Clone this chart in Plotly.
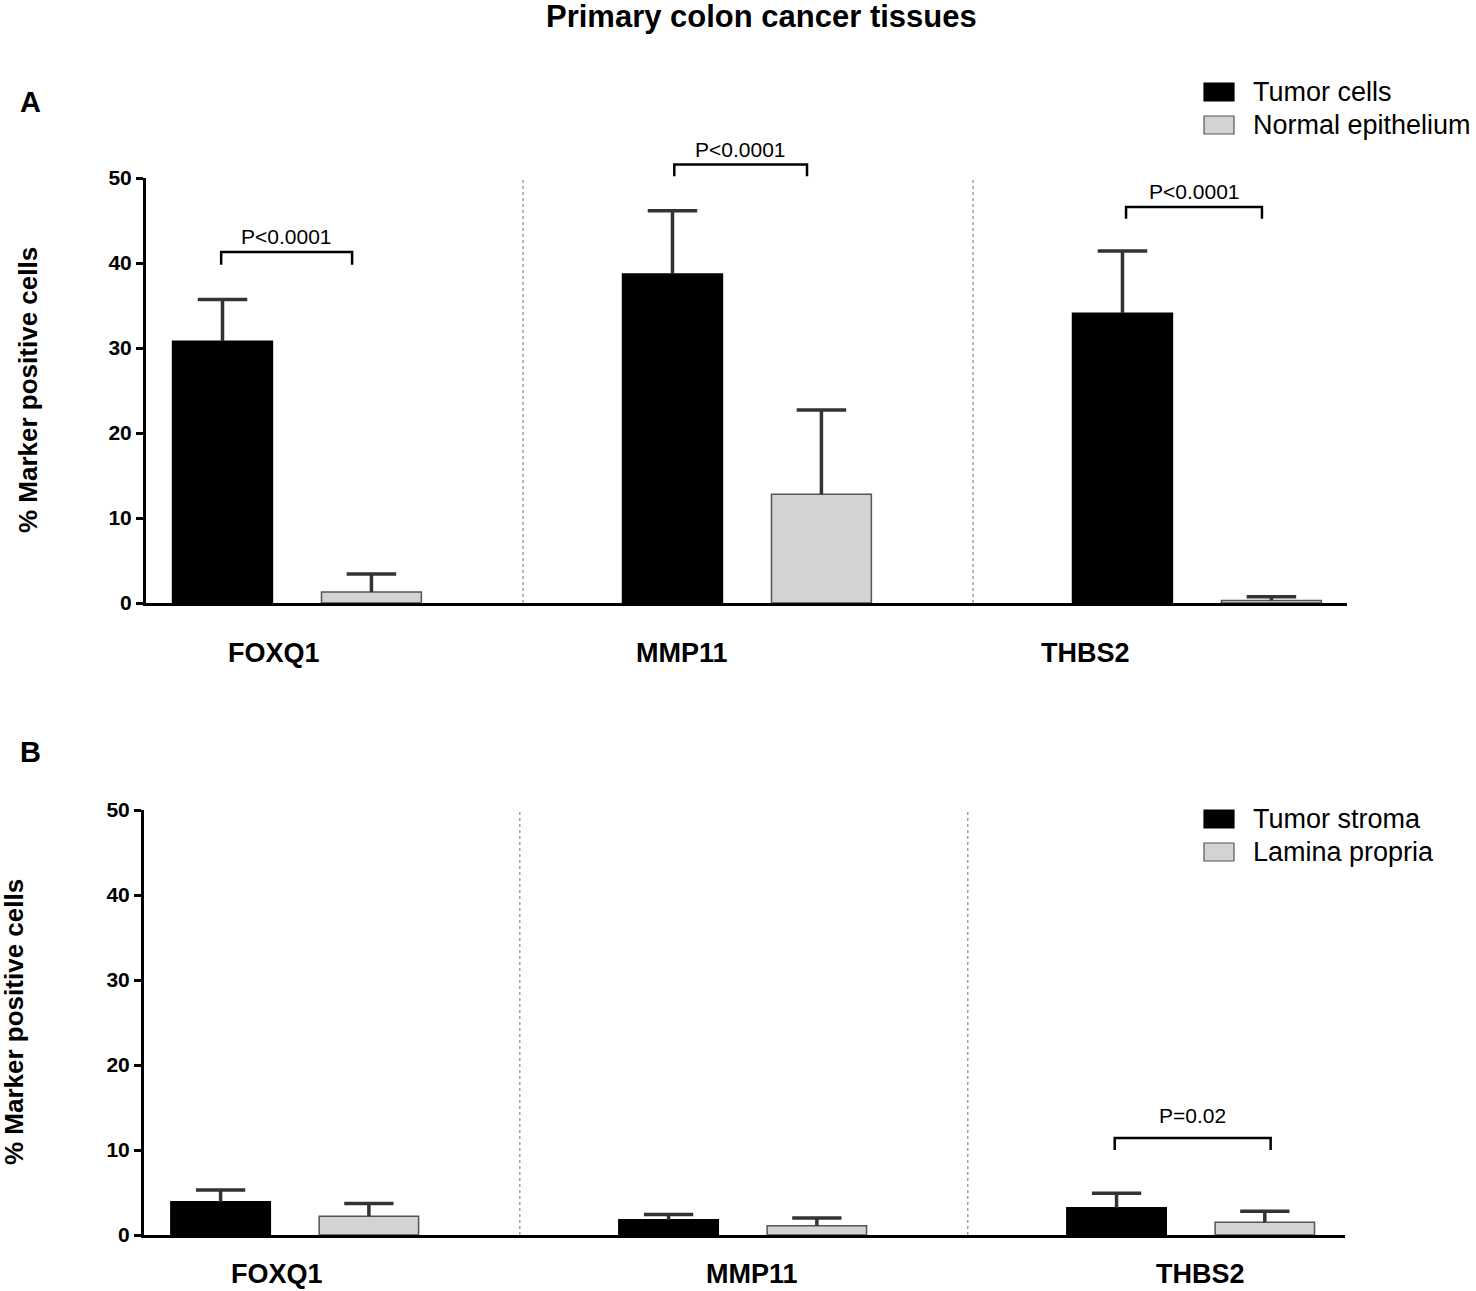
import plotly.graph_objects as go

# Дані
markers = ["FOXQ1", "MMP11", "THBS2"]

tumor_cells = [30.8, 38.7, 34.1]
tumor_cells_err = [4.9, 7.45, 7.3]
normal_epithelium = [1.3, 12.8, 0.3]
normal_epithelium_err = [2.1, 9.9, 0.45]

tumor_stroma = [3.9, 1.8, 3.2]
tumor_stroma_err = [1.4, 0.6, 1.7]
lamina_propria = [2.2, 1.1, 1.5]
lamina_propria_err = [1.5, 0.9, 1.3]

series_a = ["Tumor cells", "Normal epithelium"]
series_b = ["Tumor stroma", "Lamina propria"]
p_values_a = ["P<0.0001", "P<0.0001", "P<0.0001"]
p_values_b = [None, None, "P=0.02"]

W, H = 1476, 1291
FONT = "Liberation Sans, Arial, sans-serif"
DARK = "black"
LIGHT = "#d3d3d3"


def px(x):
    return x / W


def py(y):
    return 1 - y / H


fig = go.Figure()

BAR_W = 0.222
OFFS = [-0.168, 0.163]
CAP = 0.055  # півширина «капелюшка» похибки в одиницях осі


def add_bars(values, errs, name, color, line_color, xa, ya, k):
    xs = [i + OFFS[k] for i in range(len(values))]
    fig.add_trace(go.Bar(
        x=xs, y=values, width=BAR_W, name=name,
        marker=dict(color=color, line=dict(color=line_color, width=1.5)),
        xaxis=xa, yaxis=ya, showlegend=False,
    ))
    # похибка лише вгору, без нижньої риски
    ex, ey = [], []
    for x, v, e in zip(xs, values, errs):
        ex += [x, x, None, x - CAP, x + CAP, None]
        ey += [v, v + e, None, v + e, v + e, None]
    fig.add_trace(go.Scatter(x=ex, y=ey, mode="lines", line=dict(color="#333333", width=3.5),
                             xaxis=xa, yaxis=ya, showlegend=False, hoverinfo="skip",
                             cliponaxis=False))


add_bars(tumor_cells, tumor_cells_err, series_a[0], DARK, DARK, "x", "y", 0)
add_bars(normal_epithelium, normal_epithelium_err, series_a[1], LIGHT, "#555555", "x", "y", 1)
add_bars(tumor_stroma, tumor_stroma_err, series_b[0], DARK, DARK, "x2", "y2", 0)
add_bars(lamina_propria, lamina_propria_err, series_b[1], LIGHT, "#555555", "x2", "y2", 1)

axis_common = dict(showgrid=False, zeroline=False, showline=True, linecolor="black", linewidth=3,
                   automargin=False)
yaxis_common = dict(axis_common, range=[0, 50], tickvals=[0, 10, 20, 30, 40, 50],
                    ticks="outside", ticklen=7, tickwidth=3, tickcolor="black",
                    tickfont=dict(family=FONT, size=21, color="black", weight="bold"))

fig.update_layout(
    width=W, height=H,
    margin=dict(l=0, r=0, t=0, b=0, autoexpand=False),
    plot_bgcolor="white", paper_bgcolor="white",
    barmode="overlay",
    font=dict(family=FONT, color="black"),
    xaxis=dict(axis_common, domain=[px(146), px(1347)], range=[-0.338, 2.331],
               showticklabels=False, ticks=""),
    yaxis=dict(yaxis_common, domain=[py(603), py(178)]),
    xaxis2=dict(axis_common, domain=[px(144), px(1345)], anchor="y2", range=[-0.339, 2.342],
                showticklabels=False, ticks=""),
    yaxis2=dict(yaxis_common, domain=[py(1235), py(810)], anchor="x2"),
)

shapes = []
annotations = []


def note(text, x, y, size, bold=False, xref="paper", yref="paper", xanchor="center", angle=0):
    annotations.append(dict(xref=xref, yref=yref, x=x, y=y, text=f"<b>{text}</b>" if bold else text,
                            showarrow=False, xanchor=xanchor, yanchor="middle", textangle=angle,
                            font=dict(family=FONT, size=size, color="black")))


# Роздільники між групами
for xa, ya in [("x", "y"), ("x2", "y2")]:
    for s in [0.5, 1.5]:
        shapes.append(dict(type="line", xref=xa, yref=ya + " domain", x0=s, x1=s, y0=0, y1=1,
                           line=dict(color="#888888", width=1.2, dash="dot")))


# Скоби значущості
def bracket(xa, ya, x0, x1, ylo, yhi, text, ty):
    shapes.append(dict(type="path", xref=xa, yref=ya + " domain",
                       path=f"M {x0},{ylo / 50} L {x0},{yhi / 50} L {x1},{yhi / 50} L {x1},{ylo / 50}",
                       line=dict(color="black", width=2.5)))
    note(text, (x0 + x1) / 2, ty / 50, 21, xref=xa, yref=ya + " domain")


br_a = [(-0.171, 0.12, 39.8, 41.3, 43.1), (-0.164, 0.131, 50.2, 51.6, 53.4), (-0.16, 0.142, 45.2, 46.6, 48.4)]
for i, (x0, x1, ylo, yhi, ty) in enumerate(br_a):
    bracket("x", "y", i + x0, i + x1, ylo, yhi, p_values_a[i], ty)
bracket("x2", "y2", 2 - 0.172, 2 + 0.176, 10.0, 11.4, p_values_b[2], 14.1)

# Підписи категорій
for name, cx in zip(markers, [274, 682, 1085]):
    note(name, px(cx), py(653), 27, bold=True)
for name, cx in zip(markers, [277, 752, 1200]):
    note(name, px(cx), py(1274), 27, bold=True)

# Підписи осей Y
for cx, cy in [(28, 390), (14, 1022)]:
    note("% Marker positive cells", px(cx), py(cy), 26, bold=True, angle=-90)

# Заголовок і літери панелей
note("Primary colon cancer tissues", px(761), py(16), 31, bold=True)
for letter, cy in [("A", 102), ("B", 752)]:
    note(letter, px(30), py(cy), 29, bold=True)


# Легенди (намальовані вручну)
def legend(names, rows_y):
    for name, cy, fill, edge in zip(names, rows_y, [DARK, LIGHT], [DARK, "#555555"]):
        shapes.append(dict(type="rect", xref="paper", yref="paper",
                           x0=px(1204), x1=px(1234), y0=py(cy - 9), y1=py(cy + 9),
                           fillcolor=fill, line=dict(color=edge, width=1.2)))
        note(name, px(1251), py(cy), 27, xanchor="left")


legend(series_a, [92, 125])
legend(series_b, [819, 852])

fig.update_layout(shapes=shapes, annotations=annotations)

# прибираємо типовий відступ body, щоб рисунок займав усе вікно
fig.write_html("out.html", config={"displayModeBar": False},
               post_script="document.body.style.margin = '0';")
